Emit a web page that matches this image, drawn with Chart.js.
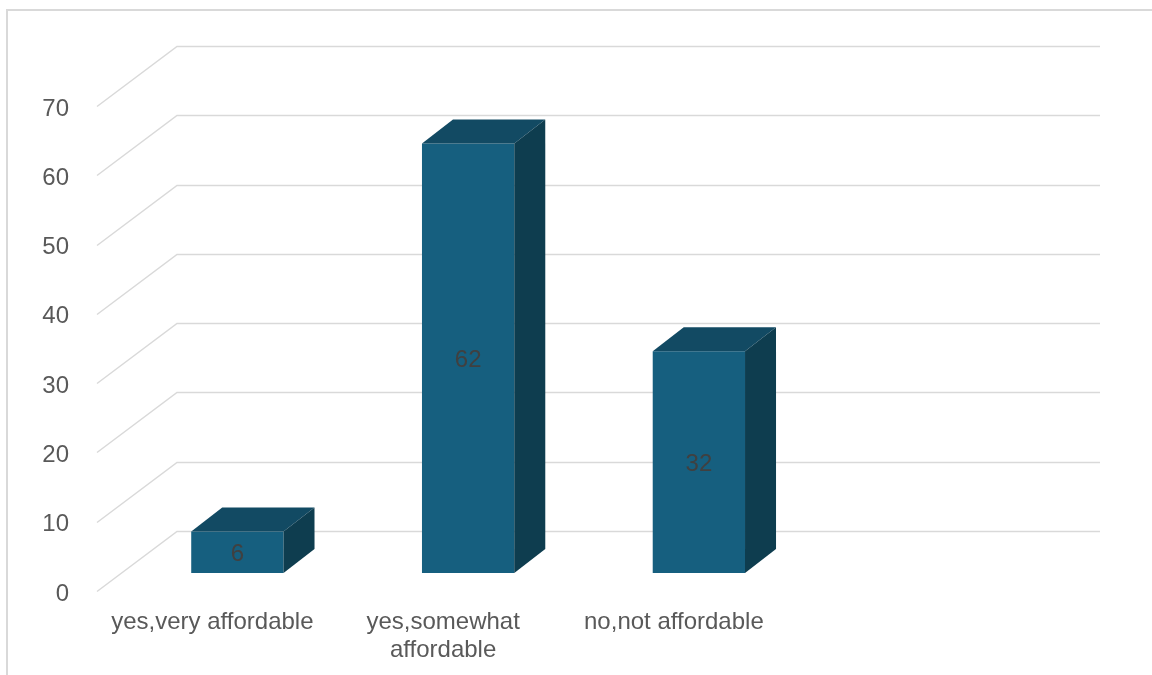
<!DOCTYPE html>
<html>
<head>
<meta charset="utf-8">
<title>Affordability</title>
<script src="https://cdn.jsdelivr.net/npm/chart.js@4"></script>
<style>
  html, body { margin: 0; padding: 0; background: #fff; }
  #wrap { width: 1152px; height: 675px; position: relative; }
</style>
</head>
<body>
<div id="wrap"><canvas id="chart"></canvas></div>
<script>
// survey answers, last slot left empty like the original sheet
const categories = ['yes,very affordable', 'yes,somewhat affordable', 'no,not affordable', ''];
const counts = [6, 62, 32, null];
const yTicks = [0, 10, 20, 30, 40, 50, 60, 70];

const FONT = '"Liberation Sans", Arial, sans-serif';
const GRID = '#d9d9d9';

// oblique depth of the 3D box: floor depth, bar front offset, bar depth
const DEPTH = { x: 80, y: -60 };
const BAR_OFF = { x: 25, y: -18 };
const BAR_DEPTH = { x: 31, y: -24 };

// long category names break onto two lines
function wrapLabel(s) {
  if (s.length <= 20) return s;
  const i = s.lastIndexOf(' ');
  return [s.slice(0, i), s.slice(i + 1)];
}

const box3d = {
  id: 'box3d',
  beforeDraw(chart) {
    const ctx = chart.ctx;
    ctx.save();
    ctx.strokeStyle = GRID;
    ctx.lineWidth = 2;
    ctx.strokeRect(7, 10, 1300, 800);
    ctx.restore();
  },
  beforeDatasetsDraw(chart) {
    const { ctx, chartArea } = chart;
    const y = chart.scales.y;
    ctx.save();
    ctx.strokeStyle = GRID;
    ctx.lineWidth = 1.5;
    yTicks.forEach(v => {
      const py = Math.round(y.getPixelForValue(v)) + 0.5;
      ctx.beginPath();
      ctx.moveTo(chartArea.left, py);
      ctx.lineTo(chartArea.left + DEPTH.x, py + DEPTH.y);
      ctx.lineTo(chartArea.right + DEPTH.x, py + DEPTH.y);
      ctx.stroke();
    });
    ctx.restore();
    // bars sit part way into the depth
    ctx.save();
    ctx.translate(BAR_OFF.x, BAR_OFF.y);
  },
  afterDatasetsDraw(chart) {
    const ctx = chart.ctx;
    const meta = chart.getDatasetMeta(0);
    meta.data.forEach((bar, i) => {
      if (counts[i] == null) return;
      const { x, y, base, width } = bar.getProps(['x', 'y', 'base', 'width'], true);
      const l = x - width / 2, r = x + width / 2;
      // top face
      ctx.fillStyle = '#124a63';
      ctx.beginPath();
      ctx.moveTo(l, y);
      ctx.lineTo(l + BAR_DEPTH.x, y + BAR_DEPTH.y);
      ctx.lineTo(r + BAR_DEPTH.x, y + BAR_DEPTH.y);
      ctx.lineTo(r, y);
      ctx.closePath();
      ctx.fill();
      // right face
      ctx.fillStyle = '#0e3d4f';
      ctx.beginPath();
      ctx.moveTo(r, y);
      ctx.lineTo(r + BAR_DEPTH.x, y + BAR_DEPTH.y);
      ctx.lineTo(r + BAR_DEPTH.x, base + BAR_DEPTH.y);
      ctx.lineTo(r, base);
      ctx.closePath();
      ctx.fill();
      // value in the middle of the front face
      ctx.fillStyle = '#404040';
      ctx.font = '24px ' + FONT;
      ctx.textAlign = 'center';
      ctx.textBaseline = 'middle';
      ctx.fillText(String(counts[i]), x, (y + base) / 2 + 2);
    });
    ctx.restore();
  }
};

new Chart(document.getElementById('chart'), {
  type: 'bar',
  data: {
    labels: categories,
    datasets: [{
      data: counts,
      backgroundColor: '#165f7f',
      borderWidth: 0,
      barPercentage: 0.4,
      categoryPercentage: 1,
      clip: false
    }]
  },
  options: {
    responsive: true,
    maintainAspectRatio: false,
    animation: false,
    events: [],
    layout: { padding: { left: 0, top: 106, right: 132, bottom: 0 } },
    plugins: { legend: { display: false }, tooltip: { enabled: false } },
    scales: {
      x: {
        grid: { display: false },
        border: { display: false },
        ticks: {
          color: '#595959',
          font: { family: FONT, size: 24, lineHeight: 1.15 },
          padding: 10,
          maxRotation: 0,
          autoSkip: false,
          callback: (v, i) => wrapLabel(categories[i])
        },
        afterFit: s => { s.height = 84; }
      },
      y: {
        min: 0,
        max: 70,
        grid: { display: false },
        border: { display: false },
        ticks: {
          stepSize: 10,
          color: '#595959',
          font: { family: FONT, size: 24 },
          padding: 20,
          labelOffset: 3
        },
        afterFit: s => { s.width = 97; }
      }
    }
  },
  plugins: [box3d]
});
</script>
</body>
</html>
